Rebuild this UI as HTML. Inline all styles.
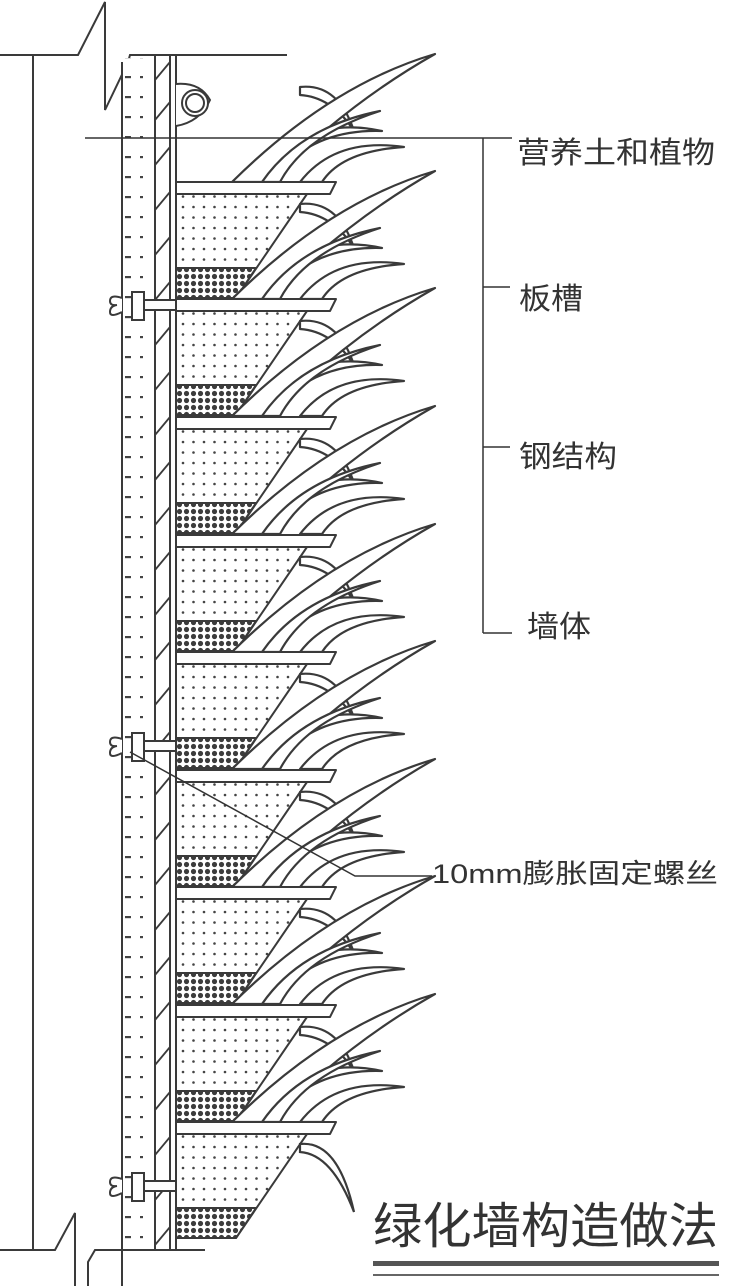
<!DOCTYPE html>
<html><head><meta charset="utf-8"><style>
html,body{margin:0;padding:0;background:#fff;}
svg{display:block;}
text{font-family:"Liberation Sans","Noto Sans CJK SC",sans-serif;fill:#333;}
</style></head><body>
<svg width="733" height="1286" viewBox="0 0 733 1286" xmlns="http://www.w3.org/2000/svg">
<defs>
<pattern id="dots" width="10.5" height="10.5" patternUnits="userSpaceOnUse" x="180" y="0">
<rect width="10.5" height="10.5" fill="#fff"/><circle cx="3" cy="4" r="1.3" fill="#444"/></pattern>
<pattern id="mesh" width="7" height="7" patternUnits="userSpaceOnUse" x="176" y="0">
<rect width="7" height="7" fill="#fff"/><circle cx="3.5" cy="3.5" r="2.6" fill="#3c3c3c"/></pattern>
<pattern id="wall" width="40" height="20" patternUnits="userSpaceOnUse" x="0" y="8">
<rect width="40" height="20" fill="#fff"/><rect x="5" y="8" width="6" height="2.2" fill="#444"/><rect x="20" y="8" width="3" height="2.2" fill="#444"/></pattern>
<g id="pot" stroke="#3a3a3a" stroke-width="2" stroke-linejoin="round">
<polygon points="176,12 307,12 236,116 176,116" fill="url(#dots)"/>
<polygon points="176,86 256,86 236,116 176,116" fill="url(#mesh)"/>
<polygon points="176,0 336,0 330,12 176,12" fill="#fff"/>
</g>
<g id="leaves" stroke="#3a3a3a" stroke-width="2.2" fill="#fff" stroke-linejoin="round">
<path d="M300,22 Q338,18 354,66 Q332,32 300,30 Z"/>
<path d="M270,92 Q318,52 382,66 Q322,64 285,100 Z"/>
<path d="M232,117 Q330,20 435,-11 Q345,40 270,117 Z"/>
<path d="M300,117 Q335,72 404,82 Q342,86 322,117 Z"/>
<path d="M262,117 Q300,62 380,46 Q305,70 280,117 Z"/>
</g>
</defs>
<rect width="733" height="1286" fill="#fff"/>
<g fill="none" stroke="#3a3a3a" stroke-width="2">
<polyline points="0,55 78,55 105,2 105,110 128,62 130,55 287,55"/>
<line x1="33" y1="55" x2="33" y2="1250"/>
</g>
<rect x="122" y="58" width="33" height="1192" fill="url(#wall)"/>
<g stroke="#3a3a3a" stroke-width="2" fill="none">
<line x1="122" y1="62" x2="122" y2="1286"/>
<line x1="155" y1="55" x2="155" y2="1260"/>
<line x1="170" y1="55" x2="170" y2="1260"/>
<line x1="176" y1="55" x2="176" y2="1260"/>
</g>
<g stroke="#3a3a3a" stroke-width="1.8">
<line x1="155" y1="80" x2="170" y2="62"/><line x1="155" y1="120" x2="170" y2="102"/>
<line x1="155" y1="165" x2="170" y2="147"/><line x1="155" y1="210" x2="170" y2="192"/>
<line x1="155" y1="255" x2="170" y2="237"/><line x1="155" y1="300" x2="170" y2="282"/>
<line x1="155" y1="345" x2="170" y2="327"/><line x1="155" y1="390" x2="170" y2="372"/>
<line x1="155" y1="435" x2="170" y2="417"/><line x1="155" y1="480" x2="170" y2="462"/>
<line x1="155" y1="525" x2="170" y2="507"/><line x1="155" y1="570" x2="170" y2="552"/>
<line x1="155" y1="615" x2="170" y2="597"/><line x1="155" y1="660" x2="170" y2="642"/>
<line x1="155" y1="705" x2="170" y2="687"/><line x1="155" y1="750" x2="170" y2="732"/>
<line x1="155" y1="795" x2="170" y2="777"/><line x1="155" y1="840" x2="170" y2="822"/>
<line x1="155" y1="885" x2="170" y2="867"/><line x1="155" y1="930" x2="170" y2="912"/>
<line x1="155" y1="975" x2="170" y2="957"/><line x1="155" y1="1020" x2="170" y2="1002"/>
<line x1="155" y1="1065" x2="170" y2="1047"/><line x1="155" y1="1110" x2="170" y2="1092"/>
<line x1="155" y1="1155" x2="170" y2="1137"/><line x1="155" y1="1200" x2="170" y2="1182"/>
<line x1="155" y1="1245" x2="170" y2="1227"/>
</g>
<path d="M176,84 Q200,82 210,100 Q200,122 176,126" fill="#fff" stroke="#3a3a3a" stroke-width="2"/>
<circle cx="195" cy="103" r="13" fill="#fff" stroke="#3a3a3a" stroke-width="2"/>
<circle cx="195" cy="103" r="9" fill="#fff" stroke="#3a3a3a" stroke-width="2"/>
<use href="#leaves" y="65"/>
<use href="#pot" y="182"/><use href="#leaves" y="182"/>
<use href="#pot" y="299"/><use href="#leaves" y="299"/>
<use href="#pot" y="417"/><use href="#leaves" y="417"/>
<use href="#pot" y="535"/><use href="#leaves" y="535"/>
<use href="#pot" y="652"/><use href="#leaves" y="652"/>
<use href="#pot" y="770"/><use href="#leaves" y="770"/>
<use href="#pot" y="887"/><use href="#leaves" y="887"/>
<use href="#pot" y="1005"/><use href="#leaves" y="1005"/>
<use href="#pot" y="1122"/>
<path d="M300,1144 Q338,1140 354,1212 Q332,1154 300,1152 Z" fill="#fff" stroke="#3a3a3a" stroke-width="2.2"/>
<rect x="122" y="1250" width="90" height="36" fill="#fff"/>
<g fill="none" stroke="#3a3a3a" stroke-width="2">
<polyline points="0,1250 55,1250 75,1213 75,1286"/>
<polyline points="88,1286 88,1262 95,1250 205,1250"/>
<line x1="122" y1="1250" x2="122" y2="1286"/>
</g>
<g id="bolt" stroke="#3a3a3a" stroke-width="2" fill="#fff">
<rect x="132" y="292" width="12" height="28"/>
<rect x="144" y="300" width="32" height="10"/>
<path d="M122,298 Q110,294 110,301 Q110,306 117,305 Q110,306 110,312 Q110,318 122,312"/>
</g>
<use href="#bolt" y="441"/>
<use href="#bolt" y="881"/>
<g stroke="#333" stroke-width="1.5" fill="none">
<line x1="85" y1="138" x2="512" y2="138"/>
<line x1="483" y1="138" x2="483" y2="633"/>
<line x1="483" y1="287" x2="510" y2="287"/>
<line x1="483" y1="447" x2="510" y2="447"/>
<line x1="483" y1="633" x2="512" y2="633"/>
<polyline points="130,752 355,876 432,876"/>
</g>
<text x="517" y="163" font-size="30" textLength="198" lengthAdjust="spacingAndGlyphs">营养土和植物</text>
<text x="519" y="309" font-size="30" textLength="64" lengthAdjust="spacingAndGlyphs">板槽</text>
<text x="519" y="467" font-size="30" textLength="98" lengthAdjust="spacingAndGlyphs">钢结构</text>
<text x="527" y="637" font-size="30" textLength="64" lengthAdjust="spacingAndGlyphs">墙体</text>
<text x="432" y="883" font-size="27" textLength="286" lengthAdjust="spacingAndGlyphs">10mm膨胀固定螺丝</text>
<text x="373" y="1243" font-size="49" fill="#444" textLength="345" lengthAdjust="spacingAndGlyphs">绿化墙构造做法</text>
<rect x="373" y="1261" width="346" height="5" fill="#555"/>
<rect x="373" y="1274" width="346" height="2" fill="#666"/>
</svg>
</body></html>
